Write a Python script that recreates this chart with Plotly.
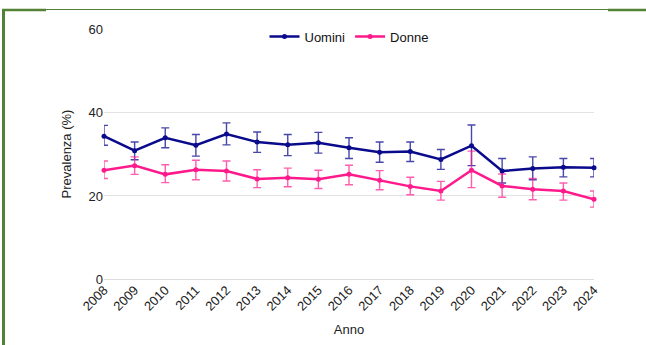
import plotly.graph_objects as go

anni = [str(y) for y in range(2008, 2025)]

uomini = [34.4, 30.9, 34.0, 32.2, 34.9, 33.0, 32.3, 32.8, 31.6, 30.5, 30.7, 28.8, 32.1, 26.0, 26.6, 26.9, 26.8]
uomini_hi = [37.0, 33.0, 36.4, 34.8, 37.6, 35.4, 34.8, 35.3, 34.0, 33.0, 33.0, 31.2, 37.1, 29.0, 29.4, 29.0, 29.0]
uomini_lo = [32.2, 28.7, 31.6, 29.6, 32.3, 30.5, 29.7, 30.3, 29.0, 28.1, 28.3, 26.4, 27.3, 23.1, 23.9, 24.6, 24.6]

donne = [26.2, 27.3, 25.2, 26.3, 26.0, 24.1, 24.4, 24.0, 25.2, 23.8, 22.3, 21.2, 26.2, 22.4, 21.6, 21.2, 19.2]
donne_hi = [28.4, 29.4, 27.5, 28.6, 28.4, 26.3, 26.7, 26.2, 27.4, 26.1, 24.5, 23.5, 30.8, 25.3, 24.2, 23.1, 21.2]
donne_lo = [24.2, 25.2, 23.2, 23.9, 23.6, 22.0, 22.2, 21.8, 22.7, 21.5, 20.3, 19.0, 22.0, 19.7, 19.1, 19.0, 17.3]

y_ticks = [0, 20, 40, 60]

BLUE = "#0a0a8c"
PINK = "#ff1a8c"
GREEN = "#538135"

def trace(name, vals, hi, lo, color, err_color):
    return go.Scatter(
        x=anni, y=vals, name=name, mode="lines+markers",
        line=dict(color=color, width=2.5),
        marker=dict(color=color, size=5),
        cliponaxis=False,
        error_y=dict(type="data", symmetric=False,
                     array=[h - v for h, v in zip(hi, vals)],
                     arrayminus=[v - l for v, l in zip(vals, lo)],
                     color=err_color, thickness=1.4, width=4),
    )

fig = go.Figure()
fig.add_trace(trace("Uomini", uomini, uomini_hi, uomini_lo, BLUE, "rgba(10,10,140,0.75)"))
fig.add_trace(trace("Donne", donne, donne_hi, donne_lo, PINK, "rgba(255,26,140,0.7)"))

L, R, T, B = 104, 52, 29, 66
W, H = 646, 345
pw, ph = W - L - R, H - T - B

def px(x):
    return (x - L) / pw

def py(y):
    return (H - B - y) / ph

shapes = [
    dict(type="line", xref="paper", yref="paper", x0=px(3.5), x1=px(3.5), y0=py(9), y1=py(346),
         line=dict(color=GREEN, width=3)),
    dict(type="line", xref="paper", yref="paper", x0=px(2), x1=px(46), y0=py(10), y1=py(10),
         line=dict(color=GREEN, width=2.5)),
    dict(type="line", xref="paper", yref="paper", x0=px(46), x1=px(608), y0=py(9.5), y1=py(9.5),
         line=dict(color=GREEN, width=1)),
    dict(type="line", xref="paper", yref="paper", x0=px(608), x1=px(647), y0=py(10), y1=py(10),
         line=dict(color=GREEN, width=2.5)),
]

fig.update_layout(
    width=W, height=H,
    margin=dict(l=L, r=R, t=T, b=B, autoexpand=False),
    paper_bgcolor="white", plot_bgcolor="white",
    font=dict(family="Liberation Sans, Arial, sans-serif", size=13, color="#222222"),
    showlegend=True,
    legend=dict(orientation="h", x=0.5, xanchor="center", y=1.03, yanchor="top",
                font=dict(size=13, color="#111111"), bgcolor="rgba(0,0,0,0)",
                itemwidth=30, tracegroupgap=0),
    xaxis=dict(title=dict(text="Anno", font=dict(size=13), standoff=12),
               type="category", range=[0, len(anni) - 1], automargin=False,
               tickangle=-45, showgrid=False, zeroline=False, showline=False,
               tickfont=dict(size=13, color="#222222"), ticks=""),
    yaxis=dict(title=dict(text="Prevalenza (%)", font=dict(size=13), standoff=13),
               range=[0, 60.2], tickvals=y_ticks, showgrid=True, gridcolor="#e3e3e3",
               automargin=False,
               zeroline=True, zerolinecolor="#dddddd", zerolinewidth=1,
               showline=False, ticks="", tickfont=dict(size=13, color="#222222")),
    shapes=shapes,
)

fig.write_html("out.html", config={"displayModeBar": False},
               post_script="document.body.style.margin='0';document.body.style.overflow='hidden';")
